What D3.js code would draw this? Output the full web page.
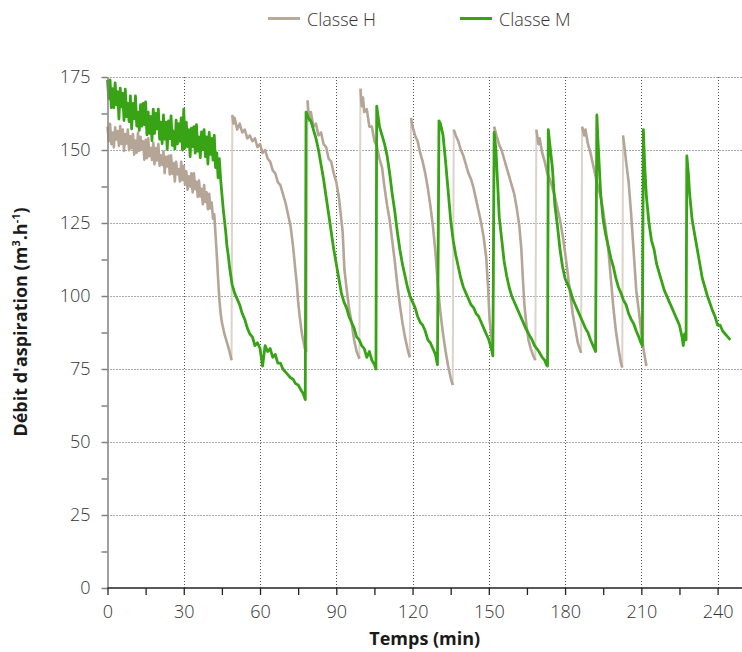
<!DOCTYPE html>
<html><head><meta charset="utf-8">
<script src="https://cdn.jsdelivr.net/npm/d3@7"></script>
<style>body{margin:0;background:#fff} svg{display:block}</style>
</head><body><svg id="c" width="742" height="652"></svg>
<script>
const seriesNames = ["Classe H", "Classe M"];
const xTickValues = [0, 30, 60, 90, 120, 150, 180, 210, 240];
const xMinorTickValues = [0, 15, 30, 45, 60, 75, 90, 105, 120, 135, 150, 165, 180, 195, 210, 225, 240];
const yTickValues = [0, 25, 50, 75, 100, 125, 150, 175];
const yMinorTickValues = [0, 12.5, 25, 37.5, 50, 62.5, 75, 87.5, 100, 112.5, 125, 137.5, 150, 162.5, 175];
const xTitle = "Temps (min)";

// [time (min), flow (m3/h)]
const classeH = [
[0,158],[0.5,153],[1,159],[1.5,152],[2,156],[2.5,150.9],[3,157.8],[3.5,153.6],[4,156.5],[4.5,151.4],[5,158.2],[5.5,152.1],[6,157],[6.5,149.7],[7,155.5],[7.5,152.2],[8,157],[8.5,149.9],[9,154.7],[9.5,150.6],[10,155.5],[10.5,148.4],[11,153.2],[11.5,149.1],[12,156],[12.5,149.7],[13,154.5],[13.5,150.2],[14,153],[14.5,146.7],[15,153.5],[15.5,147.2],[16,154],[16.5,147.9],[17,150.7],[17.5,146.6],[18,152.5],[18.5,145.1],[19,150.7],[19.5,146.4],[20,152],[20.5,144.6],[21,148.2],[21.5,144.9],[22,149.5],[22.5,142.1],[23,147.7],[23.5,144.4],[24,148],[24.5,141.6],[25,148.2],[25.5,141.9],[26,145.5],[26.5,139.2],[27,146],[27.5,141.7],[28,143.5],[28.5,139.2],[29,146],[29.5,139.7],[30,144.5],[30.5,138.1],[31,142.7],[31.5,136.4],[32,141],[32.5,137.5],[33,142],[33.5,135.5],[34,142],[34.5,136.6],[35,139.2],[35.5,133.9],[36,139.5],[36.5,134.1],[37,136.7],[37.5,131.4],[38,138],[38.5,132.2],[39,135.5],[39.5,129.7],[40,135],[40.5,130],[41,132],[41.5,126.5],[42,128],
[42.5,121],[43,114],[43.5,106],[44,99],[44.5,94],[45,91],[46,87],[47,84],[48,81],[48.8,78],
[49.1,162],[49.5,159],[50,161],[51,157],[52,159],[53,156],[54,157],[55,154],[56,155],[57,153],[58,154],[59,151],[60,152],[61,149],[62,150],[63,147],[64,146],[65,143],[66,142],[67,139],[68,138],[69,135],[70,132],[71,128],[72,124],[73,117],[74,108],[74.5,104],[75,98],[75.6,93],[76.5,87],[77.6,82],[78.4,81],
[78.7,167],[79.3,160],[80,163],[81,158],[82,159],[83,155],[84,156],[85,152],[86,151],[87,147],[88,146],[89,142],[90,139],[91,134],[92,126],[92.5,122],[93.2,109],[94,103],[95,96],[96,91],[97,85],[98,81],[99.1,78.5],
[99.5,171],[100,165],[100.5,168],[101,163],[102,164],[103,158],[104,158],[105,153],[106,151],[107,147],[108,144],[109,137],[110,131],[111,126],[112,119],[113,112],[114,104],[115,97],[116,91],[117,86],[118,82],[118.9,79],
[119.4,161],[120,158],[121,155],[122,153],[123,149],[124,146],[125,142],[126,137],[127,131],[128,124],[129,115],[130,103],[131,94],[132,87],[133,81],[134,76],[135,72],[135.8,69.5],
[136.2,157],[137,155],[138,153],[139,150],[140,148],[141,145],[142,142],[143,140],[144,137],[145,133],[146,129],[147,125],[148,120],[149,113],[149.7,103],[150.3,92],[151.6,81],
[152.1,158],[153,155],[154,152],[155,150],[156,147],[157,144],[158,141],[159,138],[160,135],[161,130],[162,124],[162.8,116],[163.4,106],[164,97],[164.8,90],[165.6,85],[166.5,82],[167.3,80],[168.3,78],
[168.7,157],[169.5,152],[170,154],[171,149],[172,146],[173,142],[174,140],[175,137],[176,134],[177,130],[178,126],[179,121],[180,115],[181,108],[182,101],[183,94],[184,89],[185,84],[186.3,80.5],
[186.7,158],[187.5,155],[188,157],[189,152],[190,149],[191,145],[192,141],[193,137],[194,134],[195,129],[196,123],[197,116],[198,106],[199,96],[200,88],[201,82],[202,77],[202.5,75.5],
[202.8,155],[203.5,150],[204,146],[205,139],[206,128],[207,115],[208,102],[209,95],[210,87],[211,81],[212,76]
];

const classeM = [
[0,174],[0.5,167.5],[1,174],[1.5,164.5],[2,171],[2.5,164.5],[3,173],[3.5,165.5],[4,170],[4.5,160.6],[5,171.2],[5.5,164.8],[6,169.5],[6.5,160.1],[7,170.8],[7.5,161.4],[8,166],[8.5,159.7],[9,168.5],[9.5,157.2],[10,166],[10.5,160.7],[11,168.5],[11.5,158.2],[12,163],[12.5,156.7],[13,165.5],[13.5,158.2],[14,166],[14.5,158.7],[15,166.5],[15.5,155.2],[16,163],[16.5,155.7],[17,161.5],[17.5,153.2],[18,164],[18.5,155.7],[19,162.5],[19.5,157.2],[20,164],[20.5,153.7],[21,159.5],[21.5,152.2],[22,162],[22.5,153.7],[23,159.5],[23.5,150.2],[24,160],[24.5,153.9],[25,161.7],[25.5,151.6],[26,156.5],[26.5,150.4],[27,160.2],[27.5,152.1],[28,159],[28.5,153],[29,161],[29.5,150],[30,164],[30.5,150.7],[31,159.5],[31.5,151.2],[32,157],[32.5,147.7],[33,157.5],[33.5,151.2],[34,158],[34.5,148.9],[35,158.7],[35.5,149.6],[36,154.5],[36.5,147.4],[37,156.2],[37.5,150.1],[38,157],[38.5,147.7],[39,154.5],[39.5,145.2],[40,156],[40.5,148.5],[41,154],[41.5,146.5],[42,155],[42.5,144],[43,149],[43.5,140.5],[44,147],
[44.5,140],[45,135],[45.5,130],[46,126],[46.5,122],[47,117],[47.5,114],[48,110],[48.5,107],[49,104],[49.5,102.5],[50,101],[51,99],[52,97],[53,94],[54,92],[55,89],[56,87],[57,86],[58,83],[59,84],[60,82],[61,76],[62,83],[63,81],[64,82],[65,79],[66,80],[67,77],[68,77],[69,75],[70,74],[71,73],[72,72],[73,71.5],[74,70],[75,69.5],[76,68],[77,66.5],[77.8,64.5],
[78.1,163],[79,161],[80,160],[81,157],[82,154],[83,150],[84,145],[85,140],[86,134],[87,128],[88,122],[89,116],[90,111],[91,106],[92,101],[93,98],[94,96],[95,93],[96,91],[97,89],[98,86],[99,85],[100,83],[101,82],[102,79],[103,81],[104,78],[105,76.5],[105.6,75],
[105.9,165],[107,158],[108,155],[109,152],[110,148],[111,142],[112,135],[113,129],[114,122],[115,116],[116,111],[117,107],[118,103],[119,100],[120,98],[121,96],[122,93],[123,91],[124,90],[125,88],[126,85],[127,84],[128,82],[129,80],[129.8,76.5],
[130.4,160],[131,159],[132,155],[133,146],[134,136],[135,126],[136,119],[137,114],[138,110],[139,106],[140,103],[141,101],[142,99],[143,97],[144,96],[145,94],[146,93],[147,91],[148,89],[149,87],[150,85],[151,82],[151.6,79.5],
[152.1,156],[152.8,150],[153.5,138],[154.1,127],[155,120],[156,112],[157,107],[158,103],[159,100],[160.5,97],[162,94],[163,92],[164.5,89],[166,86.5],[167,85],[168,83],[169.7,81],[171,79],[172,78],[172.6,76.5],[173.1,76],
[173.4,157],[174,152],[175,144],[176,131],[177,124],[178,116],[179,110],[180,106],[181,104],[182,102],[183,99],[184,97],[185,95],[186,93],[187,91],[188,89],[189,87.5],[190,85],[191,83],[192,81],
[192.5,162],[193,152],[194,135],[195,126],[196,121],[197,117],[198,113],[199,110],[200,106],[201,103],[202,101],[203,98.5],[204,97],[205,94],[206,92],[207,90.5],[208,88],[209,86],[209.8,84],[210.4,83],
[210.8,157],[211.3,145],[212,134],[213,125],[214,119],[215,116],[216,111],[217,108],[218,105],[219,102],[220,100],[221,98],[222,96],[223,94],[224,92],[225,90],[226,86],[226.5,83],[227,87],[227.6,85],
[227.9,148],[228.5,142],[229,135],[230,126],[231,121],[232,116],[233,111],[234,106],[235,103],[236,100],[237,97.5],[238,95],[239,93],[240,90],[241,90],[242,88],[243,87],[244,86],[245,85]
];

const colH = "#b5a596", colHRise = "#dcd3ca", colM = "#37a315";
const svg = d3.select("#c");
const L = 107.5, R = 742, T = 77, B = 588;
const x = d3.scaleLinear().domain([0, 249.6]).range([L, R]);
const y = d3.scaleLinear().domain([0, 175]).range([B, T]);
const tickFont = "'Open Sans', 'DejaVu Sans', sans-serif";

// grid
svg.append("g").selectAll("line").data(yTickValues.filter(d => d > 0)).join("line")
  .attr("x1", L).attr("x2", R).attr("y1", d => y(d) + 0.5).attr("y2", d => y(d) + 0.5)
  .attr("stroke", "#555").attr("stroke-width", 1).attr("stroke-dasharray", "1,2");
svg.append("g").selectAll("line").data(xTickValues.filter(d => d > 0)).join("line")
  .attr("x1", d => Math.round(x(d)) + 0.5).attr("x2", d => Math.round(x(d)) + 0.5).attr("y1", B).attr("y2", T)
  .attr("stroke", "#555").attr("stroke-width", 1).attr("stroke-dasharray", "1,2");

// split a series into falling runs and the sudden rises (jumps) between them
function splitRuns(data) {
  const runs = [[data[0]]], rises = [];
  for (let i = 1; i < data.length; i++) {
    if (data[i][1] - data[i - 1][1] > 30) { rises.push([data[i - 1], data[i]]); runs.push([data[i]]); }
    else runs[runs.length - 1].push(data[i]);
  }
  return { runs, rises };
}
const line = d3.line().x(d => x(d[0])).y(d => y(d[1]));
const hParts = splitRuns(classeH);
svg.append("g").selectAll("path").data(hParts.rises).join("path").attr("d", line).attr("fill", "none")
  .attr("stroke", colHRise).attr("stroke-width", 2);
svg.append("g").selectAll("path").data(hParts.runs).join("path").attr("d", line).attr("fill", "none")
  .attr("stroke", colH).attr("stroke-width", 2.6).attr("stroke-linejoin", "round");
svg.append("path").datum(classeM).attr("d", line).attr("fill", "none")
  .attr("stroke", colM).attr("stroke-width", 2.8).attr("stroke-linejoin", "round");

// axes
const yAxis = svg.append("g").attr("transform", `translate(${L},0)`)
  .call(d3.axisLeft(y).tickValues(yMinorTickValues).tickSize(6).tickSizeOuter(0).tickPadding(11)
    .tickFormat(d => yTickValues.includes(d) ? d : ""));
yAxis.selectAll("path,line").attr("stroke", "#808080").attr("stroke-width", 1.5);
yAxis.selectAll("text").attr("font-family", tickFont).attr("font-size", 18).attr("font-weight", 300).attr("fill", "#333");

const xAxis = svg.append("g").attr("transform", `translate(0,${B})`)
  .call(d3.axisBottom(x).tickValues(xMinorTickValues).tickSize(7).tickSizeOuter(0).tickPadding(10)
    .tickFormat(d => xTickValues.includes(d) ? d : ""));
xAxis.selectAll("path,line").attr("stroke", "#222").attr("stroke-width", 1.3);
xAxis.selectAll("text").attr("font-family", tickFont).attr("font-size", 18).attr("font-weight", 300).attr("fill", "#333");
xAxis.select("path").attr("d", `M${L},0H${R}`);

// titles
svg.append("text").attr("x", (L + R) / 2).attr("y", 645).attr("text-anchor", "middle")
  .attr("font-family", tickFont).attr("font-weight", 700).attr("font-size", 18).attr("fill", "#1a1a1a")
  .text(xTitle);
const yt = svg.append("text").attr("transform", "translate(27,322) rotate(-90)").attr("text-anchor", "middle")
  .attr("font-family", tickFont).attr("font-weight", 700).attr("font-size", 18).attr("fill", "#1a1a1a");
yt.append("tspan").text("Débit d'aspiration (m");
yt.append("tspan").attr("font-size", 11).attr("dy", -7).text("3");
yt.append("tspan").attr("dy", 7).text(".h");
yt.append("tspan").attr("font-size", 11).attr("dy", -7).text("-1");
yt.append("tspan").attr("dy", 7).text(")");

// legend
const legX = [268, 460];
const leg = svg.append("g").selectAll("g").data(seriesNames).join("g")
  .attr("transform", (d, i) => `translate(${legX[i]},0)`);
leg.append("line").attr("x1", 0).attr("x2", 32).attr("y1", 18.5).attr("y2", 18.5)
  .attr("stroke", (d, i) => i === 0 ? "#b8a999" : colM).attr("stroke-width", 3);
leg.append("text").attr("x", 39).attr("y", 26).attr("font-family", tickFont).attr("font-weight", 300)
  .attr("font-size", 18).attr("fill", "#333").text(d => d);
</script></body></html>
